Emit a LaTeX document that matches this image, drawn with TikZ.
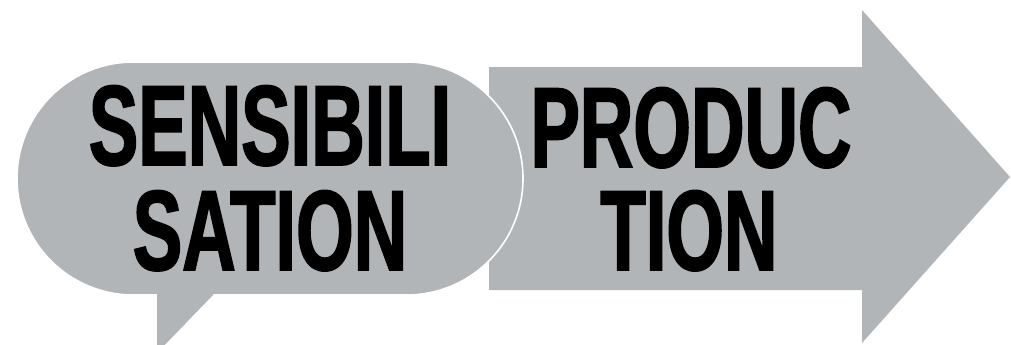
\documentclass[tikz,border=0pt]{standalone}
\usepackage{fontspec}
\newfontfamily\condfont[FakeStretch=0.65,FakeBold=1.5]{Liberation Sans Bold}
\definecolor{shapegray}{HTML}{B1B5B7}
\begin{document}
\begin{tikzpicture}[x=1pt,y=-1pt,
  shapefill/.style={fill=shapegray},
  bigtext/.style={font=\condfont\fontsize{114}{104}\selectfont, text=black, align=center, inner sep=0pt, anchor=base}]
\useasboundingbox (0,0) rectangle (1011,345);
% arrow
\fill[shapefill] (489,67) -- (862,67) -- (862,10) -- (1010,177) -- (862,343) -- (862,290) -- (489,290) -- cycle;
% speech bubble
\filldraw[shapefill, draw=white, line width=1.6pt, rounded corners=116.4pt] (17,62) rectangle (523,295);
\fill[shapefill] (157,292) -- (213,292) -- (213,295) -- (157,353) -- cycle;
% texts
\node[bigtext] (s1) at (270,165) {SENSIBILI};
\node[bigtext] (s2) at (270,270) {SATION};
\node[bigtext] (p1) at (691,167) {PRODUC};
\node[bigtext] (p2) at (689,270) {TION};
\end{tikzpicture}
\end{document}
